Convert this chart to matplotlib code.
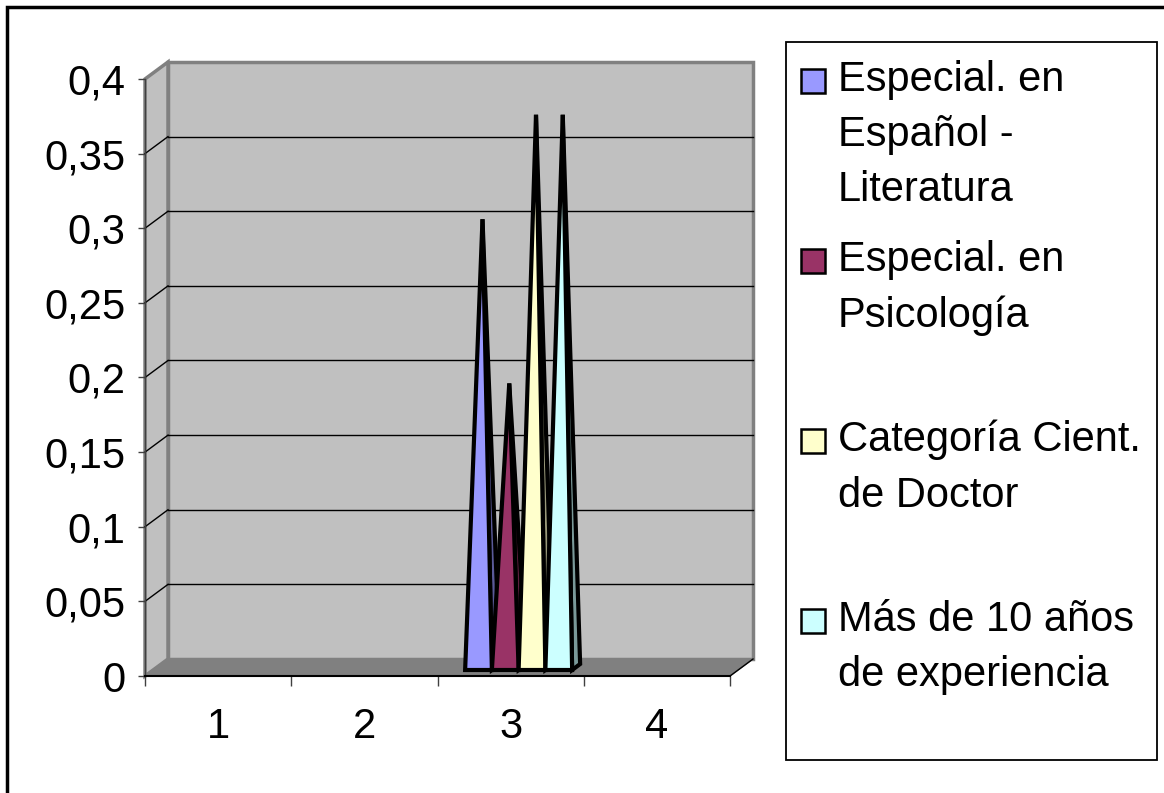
import matplotlib
matplotlib.use("Agg")
import matplotlib.pyplot as plt
from matplotlib.patches import Polygon, Rectangle
from matplotlib.ticker import FixedLocator, FuncFormatter, NullFormatter

# ---------------- data ----------------
categories = ["1", "2", "3", "4"]
series_names = ["Especial. en\nEspañol -\nLiteratura",
                "Especial. en\nPsicología",
                "Categoría Cient.\nde Doctor",
                "Más de 10 años\nde experiencia"]
esp_literatura = [0, 0, 0.30, 0]
esp_psicologia = [0, 0, 0.19, 0]
cat_doctor = [0, 0, 0.37, 0]
mas_10_anios = [0, 0, 0.37, 0]
y_ticks = [0, 0.05, 0.1, 0.15, 0.2, 0.25, 0.3, 0.35, 0.4]

series_values = [esp_literatura, esp_psicologia, cat_doctor, mas_10_anios]
front_colors = ["#9999FF", "#993366", "#FFFFCC", "#CCFFFF"]
side_colors = ["#5A5A99", "#5C1F3D", "#99997A", "#7A9999"]

FONT = "Liberation Sans"
W, H = 1164, 793
fig = plt.figure(figsize=(W / 100, H / 100), dpi=100)
fig.patch.set_facecolor("white")

# axes = front plane of the 3D plot
ax_l, ax_r, ax_t, ax_b = 145, 730, 79, 676
ax = fig.add_axes([ax_l / W, (H - ax_b) / H, (ax_r - ax_l) / W, (ax_b - ax_t) / H])
ax.set_xlim(0.5, 4.5)
ax.set_ylim(0, 0.4)
ax.patch.set_alpha(0)

sx = 4.0 / (ax_r - ax_l)      # data units per pixel, x
sy = 0.4 / (ax_b - ax_t)      # data units per pixel, y
DX, DY = 23 * sx, 17 * sy     # full depth offset

x0, x1 = 0.5, 4.5
wall_col = "#C0C0C0"
edge_col = "#808080"

# back wall
ax.add_patch(Polygon([(x0 + DX, DY), (x1 + DX, DY), (x1 + DX, 0.4 + DY), (x0 + DX, 0.4 + DY)],
                     closed=True, facecolor=wall_col, edgecolor=edge_col, lw=2.5,
                     clip_on=False, zorder=1))
# left wall
ax.add_patch(Polygon([(x0, 0), (x0 + DX, DY), (x0 + DX, 0.4 + DY), (x0, 0.4)],
                     closed=True, facecolor=wall_col, edgecolor=edge_col, lw=2.5,
                     clip_on=False, zorder=1))
# floor
ax.add_patch(Polygon([(x0, 0), (x1, 0), (x1 + DX, DY), (x0 + DX, DY)],
                     closed=True, facecolor="#808080", edgecolor="#808080", lw=1,
                     clip_on=False, zorder=2))
ax.plot([x1, x1 + DX], [0, DY], color="black", lw=1, clip_on=False, zorder=2)

# gridlines (back wall + left wall)
for t in y_ticks[1:-1]:
    ax.plot([x0 + DX, x1 + DX], [t + DY, t + DY], color="black", lw=1, clip_on=False, zorder=1.5)
    ax.plot([x0, x0 + DX], [t, t + DY], color="black", lw=1, clip_on=False, zorder=1.5)

# pyramids
n = len(series_values)
bw = 26.75 * sx
pdx, pdy = 8 * sx, 6 * sy        # pyramid depth
fdx, fdy = 8 * sx, 6 * sy        # pyramid front offset from front plane
for ci in range(len(categories)):
    left = (ci + 1) - n * bw / 2 + fdx
    for si in range(n):
        v = series_values[si][ci]
        if v <= 0:
            continue
        xl = left + si * bw
        xr = xl + bw
        b = fdy
        apex = ((xl + xr) / 2 + pdx / 2, v + fdy + pdy / 2)
        side = Polygon([(xr, b), (xr + pdx, b + pdy), apex], closed=True,
                       facecolor=side_colors[si], edgecolor="black", lw=3.0,
                       joinstyle="miter", clip_on=False, zorder=3 + si)
        front = Polygon([(xl, b), (xr, b), apex], closed=True,
                        facecolor=front_colors[si], edgecolor="black", lw=3.0,
                        joinstyle="miter", clip_on=False, zorder=3 + si)
        ax.add_patch(side)
        ax.add_patch(front)

# axes / ticks
for s in ["top", "right"]:
    ax.spines[s].set_visible(False)
ax.spines["left"].set_color("#404040")
ax.spines["left"].set_linewidth(1)
ax.spines["bottom"].set_color("black")
ax.spines["bottom"].set_linewidth(1.5)
ax.spines["bottom"].set_zorder(2.5)

ax.yaxis.set_major_locator(FixedLocator(y_ticks))
ax.yaxis.set_major_formatter(FuncFormatter(lambda v, p: ("%g" % v).replace(".", ",")))
ax.tick_params(axis="y", which="major", length=5, width=1, color="#404040", pad=9,
               labelsize=30)
ax.xaxis.set_major_locator(FixedLocator([1, 2, 3, 4]))
ax.set_xticklabels(categories)
ax.xaxis.set_minor_locator(FixedLocator([0.5, 1.5, 2.5, 3.5, 4.5]))
ax.xaxis.set_minor_formatter(NullFormatter())
ax.tick_params(axis="x", which="major", length=0, pad=22, labelsize=30)
ax.tick_params(axis="x", which="minor", length=7, width=1, color="#404040")
for lab in ax.get_xticklabels() + ax.get_yticklabels():
    lab.set_fontfamily(FONT)

# legend (manual, Excel style)
lg_l, lg_r, lg_t, lg_b = 786, 1157, 42, 760
fig.patches.append(Rectangle((lg_l / W, 1 - lg_b / H), (lg_r - lg_l) / W, (lg_b - lg_t) / H,
                             transform=fig.transFigure, facecolor="white",
                             edgecolor="black", lw=1.3, zorder=5))
entry_y = [81, 261, 441, 621]
for i, name in enumerate(series_names):
    yc = entry_y[i]
    fig.patches.append(Rectangle((801 / W, 1 - (yc + 12) / H), 24 / W, 24 / H,
                                 transform=fig.transFigure, facecolor=front_colors[i],
                                 edgecolor="black", lw=1.8, zorder=6))
    fig.text(838 / W, 1 - (yc - 21) / H, name, fontsize=30, family=FONT,
             ha="left", va="top", linespacing=1.49, zorder=7)

# outer chart border (right/bottom cut off in reference)
fig.patches.append(Rectangle((7 / W, -0.05), 1.2, 1 - 7 / H + 0.05,
                             transform=fig.transFigure, facecolor="none",
                             edgecolor="black", lw=2.5, zorder=10))

fig.savefig("out.png", dpi=100)
